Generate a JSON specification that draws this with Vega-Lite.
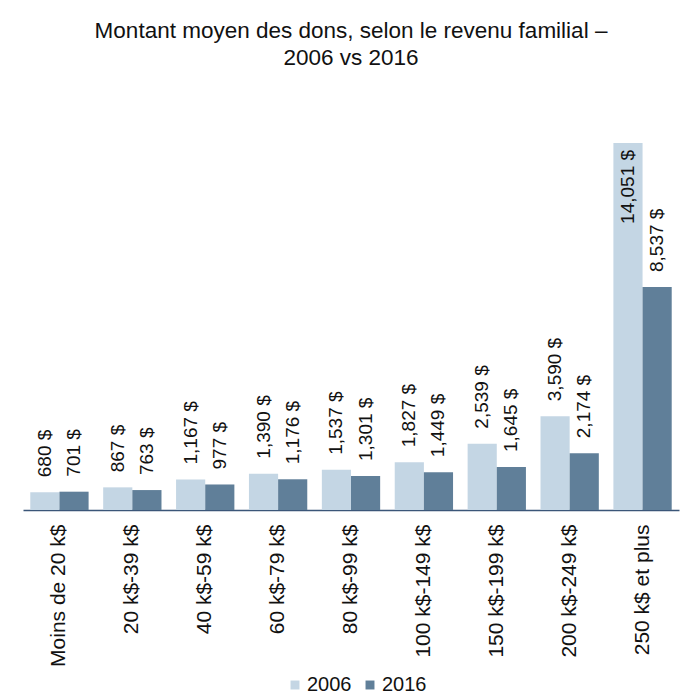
{
  "$schema": "https://vega.github.io/schema/vega-lite/v6.json",
  "width": 656,
  "height": 418,
  "autosize": {"type": "none"},
  "padding": {"left": 23, "top": 92, "right": 12, "bottom": 187},
  "background": "white",
  "title": {
    "text": ["Montant moyen des dons, selon le revenu familial –", "2006 vs 2016"],
    "font": "Liberation Sans",
    "fontSize": 22.5,
    "fontWeight": "normal",
    "lineHeight": 27,
    "offset": 23,
    "anchor": "middle",
    "color": "#111111"
  },
  "data": {
    "values": [
      {"cat": "Moins de 20 k$", "year": "2006", "value": 680},
      {"cat": "Moins de 20 k$", "year": "2016", "value": 701},
      {"cat": "20 k$-39 k$", "year": "2006", "value": 867},
      {"cat": "20 k$-39 k$", "year": "2016", "value": 763},
      {"cat": "40 k$-59 k$", "year": "2006", "value": 1167},
      {"cat": "40 k$-59 k$", "year": "2016", "value": 977},
      {"cat": "60 k$-79 k$", "year": "2006", "value": 1390},
      {"cat": "60 k$-79 k$", "year": "2016", "value": 1176},
      {"cat": "80 k$-99 k$", "year": "2006", "value": 1537},
      {"cat": "80 k$-99 k$", "year": "2016", "value": 1301},
      {"cat": "100 k$-149 k$", "year": "2006", "value": 1827},
      {"cat": "100 k$-149 k$", "year": "2016", "value": 1449},
      {"cat": "150 k$-199 k$", "year": "2006", "value": 2539},
      {"cat": "150 k$-199 k$", "year": "2016", "value": 1645},
      {"cat": "200 k$-249 k$", "year": "2006", "value": 3590},
      {"cat": "200 k$-249 k$", "year": "2016", "value": 2174},
      {"cat": "250 k$ et plus", "year": "2006", "value": 14051},
      {"cat": "250 k$ et plus", "year": "2016", "value": 8537}
    ]
  },
  "encoding": {
    "x": {
      "field": "cat",
      "type": "nominal",
      "sort": null,
      "scale": {"paddingInner": 0.2, "paddingOuter": 0.1},
      "axis": {
        "title": null,
        "labelAngle": -90,
        "labelFont": "Liberation Sans",
        "labelFontSize": 21,
        "labelColor": "#111111",
        "ticks": false,
        "domainColor": "#3b5678",
        "domainWidth": 1.5,
        "labelPadding": 14,
        "labelLimit": 0
      }
    },
    "xOffset": {"field": "year", "type": "nominal"},
    "y": {
      "field": "value",
      "type": "quantitative",
      "scale": {"domain": [0, 16000], "nice": false},
      "axis": null
    }
  },
  "layer": [
    {
      "mark": {"type": "bar"},
      "encoding": {
        "color": {
          "field": "year",
          "type": "nominal",
          "scale": {"domain": ["2006", "2016"], "range": ["#c4d6e4", "#607f99"]},
          "legend": {
            "title": null,
            "orient": "none",
            "legendX": 262,
            "legendY": 583,
            "direction": "horizontal",
            "symbolType": "square",
            "symbolSize": 80,
            "symbolStrokeWidth": 0,
            "labelOffset": 2,
            "labelFont": "Liberation Sans",
            "labelFontSize": 20,
            "labelColor": "#111111",
            "columnPadding": 8
          }
        }
      }
    },
    {
      "transform": [{"filter": "datum.value < 10000"}],
      "mark": {
        "type": "text",
        "angle": 270,
        "align": "left",
        "baseline": "middle",
        "dx": 15,
        "font": "Liberation Sans",
        "fontSize": 19,
        "color": "#111111"
      },
      "encoding": {
        "text": {"field": "value", "type": "quantitative", "format": "$,"}
      }
    },
    {
      "transform": [{"filter": "datum.value >= 10000"}],
      "mark": {
        "type": "text",
        "angle": 270,
        "align": "right",
        "baseline": "middle",
        "dx": -7,
        "font": "Liberation Sans",
        "fontSize": 19,
        "color": "#111111"
      },
      "encoding": {
        "text": {"field": "value", "type": "quantitative", "format": "$,"}
      }
    }
  ],
  "config": {
    "view": {"stroke": null},
    "locale": {
      "number": {
        "decimal": ".",
        "thousands": ",",
        "grouping": [3],
        "currency": ["", " $"]
      }
    }
  }
}
